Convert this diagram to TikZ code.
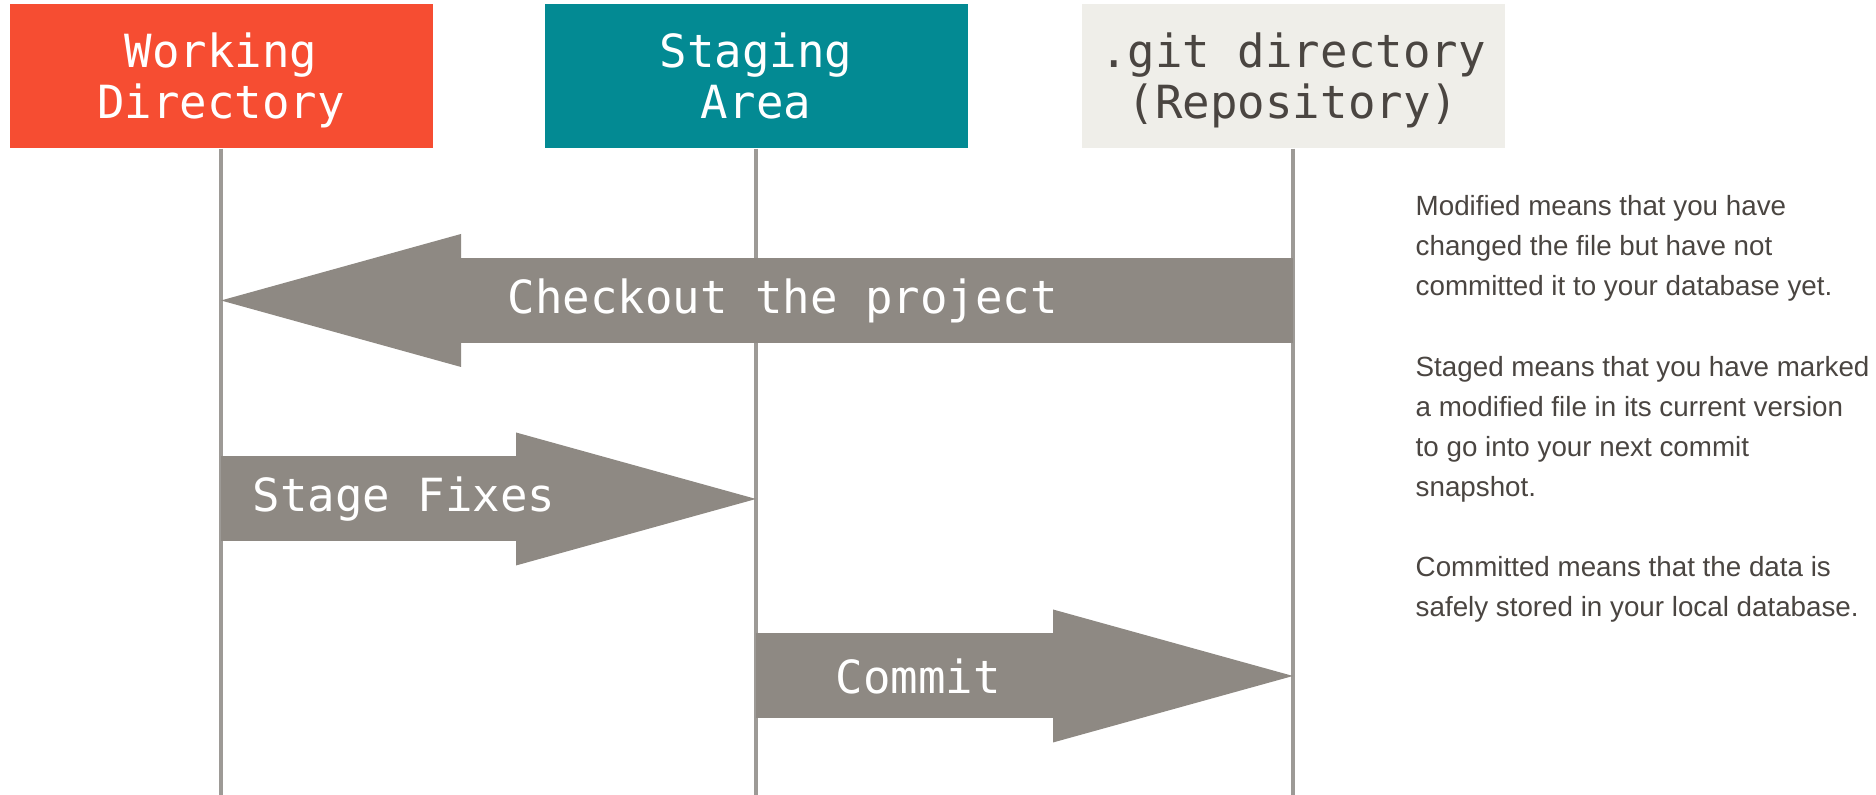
\documentclass[tikz,border=0pt]{standalone}
\usepackage{fontspec}
\setmainfont{Liberation Sans}
\newfontfamily\gitmono{DejaVu Sans Mono}
\usetikzlibrary{arrows.meta, positioning, calc}
\definecolor{gitred}{HTML}{F64D32}
\definecolor{gitteal}{HTML}{038A93}
\definecolor{gitpaper}{HTML}{EFEEE9}
\definecolor{gitgray}{HTML}{8E8983}
\definecolor{lifegray}{HTML}{9D9A96}
\definecolor{gittext}{HTML}{4A4541}

\begin{document}
\begin{tikzpicture}[
    area/.style={minimum width=4.23cm, minimum height=1.44cm, align=center, inner sep=0pt, text depth=0pt, font=\gitmono\fontsize{13}{14.5}\selectfont},
    life/.style={draw=lifegray, line width=0.9pt},
    flow/.style={color=gitgray, line width=0.85cm, -{Triangle[length=2.4cm, width=1.33cm, line width=0pt]}},
    flowtext/.style={text=white, font=\gitmono\fontsize{13}{14.5}\selectfont}
]
    \useasboundingbox (0,0) rectangle (18.76,7.95);

    % The three areas
    \node[area, fill=gitred, text=white] (wd) at (2.21,7.19) {Working\\Directory};
    \node[area, fill=gitteal, text=white] (sa) at (7.56,7.19) {Staging\\Area};
    \node[area, fill=gitpaper, text=gittext] (git) at (12.93,7.19) {.git directory\\(Repository)};

    % Lifelines
    \coordinate (wdend) at (wd.center |- 0,0);
    \coordinate (saend) at (sa.center |- 0,0);
    \coordinate (gitend) at (git.center |- 0,0);
    \draw[life] (wd.south) -- (wdend);
    \draw[life] (sa.south) -- (saend);
    \draw[life] (git.south) -- (gitend);

    % Checkout
    \coordinate (git1) at (git.center |- 0,4.945);
    \coordinate (wd1) at (wd.center |- 0,4.945);
    \draw[flow] (git1) -- node[flowtext, pos=0.476] (checkout) {Checkout the project} (wd1);

    % Stage fixes
    \coordinate (wd2) at (wd.center |- 0,2.96);
    \coordinate (sa2) at (sa.center |- 0,2.96);
    \draw[flow] (wd2) -- node[flowtext, pos=0.342] (stage) {Stage Fixes} (sa2);

    % Commit
    \coordinate (sa3) at (sa.center |- 0,1.19);
    \coordinate (git3) at (git.center |- 0,1.19);
    \draw[flow] (sa3) -- node[flowtext, pos=0.302] (commit) {Commit} (git3);

    % Notes on the right
    \node[anchor=north west, inner sep=0pt, align=left, text=gittext, font=\fontsize{7.9}{11.4}\selectfont] (notes) at (14.15,6.00)
        {Modified means that you have\\changed the file but have not\\committed it to your database yet.\\[11.4pt]
         Staged means that you have marked\\a modified file in its current version\\to go into your next commit\\snapshot.\\[11.4pt]
         Committed means that the data is\\safely stored in your local database.};
\end{tikzpicture}
\end{document}
